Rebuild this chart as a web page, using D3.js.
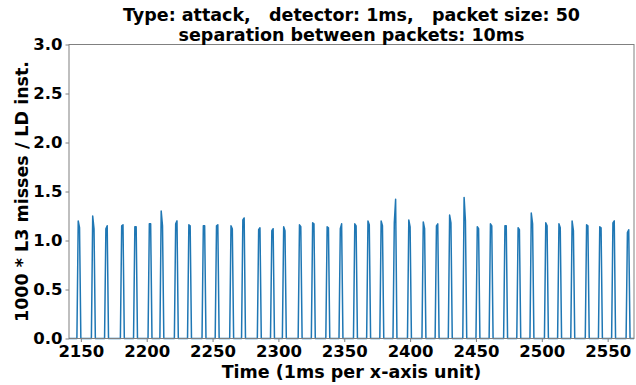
<!DOCTYPE html>
<html>
<head>
<meta charset="utf-8">
<script src="https://cdn.jsdelivr.net/npm/d3@7"></script>
<style>
  body { margin: 0; background: #fff; }
  text { font-family: "DejaVu Sans", sans-serif; font-weight: bold; }
</style>
</head>
<body>
<div id="chart"></div>
<script>
const WIDTH = 636;
const HEIGHT = 385;

// time window shown on the x axis (1ms per unit)
const timeRange = [2141, 2570];

// each spike: start time (ms), then first and second non-zero sample
const spikeStart = [2147, 2158, 2168, 2180, 2190, 2201, 2210, 2221, 2231, 2242,
                    2252, 2263, 2272, 2284, 2294, 2303, 2315, 2325, 2336, 2346,
                    2357, 2367, 2377, 2387, 2398, 2409, 2419, 2429, 2440, 2450,
                    2460, 2471, 2481, 2491, 2502, 2512, 2522, 2533, 2543, 2553, 2564];
const spikeFirst = [1.20, 1.25, 1.12, 1.15, 1.14, 1.17, 1.30, 1.17, 1.16, 1.15,
                    1.15, 1.15, 1.21, 1.11, 1.10, 1.14, 1.16, 1.18, 1.14, 1.12,
                    1.17, 1.20, 1.20, 1.18, 1.21, 1.19, 1.15, 1.26, 1.44, 1.14,
                    1.17, 1.15, 1.13, 1.28, 1.18, 1.17, 1.20, 1.16, 1.14, 1.18, 1.08];
const spikeSecond = [1.13, 1.12, 1.15, 1.16, 1.14, 1.17, 1.15, 1.20, 1.15, 1.15,
                     1.16, 1.12, 1.23, 1.13, 1.12, 1.10, 1.14, 1.17, 1.13, 1.17,
                     1.15, 1.16, 1.15, 1.42, 1.14, 1.12, 1.17, 1.18, 1.20, 1.12,
                     1.15, 1.15, 1.11, 1.17, 1.15, 1.13, 1.10, 1.15, 1.13, 1.20, 1.11];

const xTicks = [2150, 2200, 2250, 2300, 2350, 2400, 2450, 2500, 2550];
const yTicks = [0.0, 0.5, 1.0, 1.5, 2.0, 2.5, 3.0];

const titleLines = ["Type: attack,   detector: 1ms,   packet size: 50",
                    "separation between packets: 10ms"];
const xLabel = "Time (1ms per x-axis unit)";
const yLabel = "1000 * L3 misses / LD inst.";

// series sampled every 1ms: zero between spikes
function buildSeries() {
    const vals = new Map();
    spikeStart.forEach((t, i) => {
        vals.set(t + 1, spikeFirst[i]);
        vals.set(t + 2, spikeSecond[i]);
    });
    const pts = [];
    for (let t = timeRange[0]; t <= timeRange[1]; t++) {
        pts.push({ t, v: vals.has(t) ? vals.get(t) : 0 });
    }
    return pts;
}

const margin = { top: 44.5, right: 2, bottom: 46.5, left: 69 };
const innerW = WIDTH - margin.left - margin.right;
const innerH = HEIGHT - margin.top - margin.bottom;

const svg = d3.select('#chart').append('svg')
    .attr('width', WIDTH)
    .attr('height', HEIGHT);

const g = svg.append('g')
    .attr('transform', `translate(${margin.left},${margin.top})`);

const x = d3.scaleLinear().domain(timeRange).range([0, innerW]);
const y = d3.scaleLinear().domain([0, 3]).range([innerH, 0]);

const series = buildSeries();

g.append('path')
    .datum(series)
    .attr('fill', 'none')
    .attr('stroke', '#1f77b4')
    .attr('stroke-width', 1.5)
    .attr('stroke-linejoin', 'round')
    .attr('d', d3.line().x(d => x(d.t)).y(d => y(d.v)));

// frame
g.append('rect')
    .attr('width', innerW)
    .attr('height', innerH)
    .attr('fill', 'none')
    .attr('stroke', '#808080')
    .attr('stroke-width', 1);

const xAxis = g.append('g')
    .attr('transform', `translate(0,${innerH})`)
    .call(d3.axisBottom(x).tickValues(xTicks).tickFormat(d3.format('d')).tickSize(3.5).tickPadding(3));
const yAxis = g.append('g')
    .call(d3.axisLeft(y).tickValues(yTicks).tickFormat(d3.format('.1f')).tickSize(3.5).tickPadding(3));

[xAxis, yAxis].forEach(ax => {
    ax.select('.domain').remove();
    ax.selectAll('line').attr('stroke', '#808080');
    ax.selectAll('text')
        .attr('fill', '#000')
        .style('font-size', '16.5px')
        .style('font-family', '"DejaVu Sans", sans-serif')
        .style('font-weight', 'bold');
});

svg.selectAll('.title')
    .data(titleLines)
    .enter().append('text')
    .attr('class', 'title')
    .attr('x', margin.left + innerW / 2)
    .attr('y', (d, i) => 21 + i * 19.5)
    .attr('text-anchor', 'middle')
    .style('font-size', '17.5px')
    .style('white-space', 'pre')
    .text(d => d);

svg.append('text')
    .attr('x', margin.left + innerW / 2)
    .attr('y', 378)
    .attr('text-anchor', 'middle')
    .style('font-size', '17.5px')
    .text(xLabel);

svg.append('text')
    .attr('transform', `translate(28,${margin.top + innerH / 2}) rotate(-90)`)
    .attr('text-anchor', 'middle')
    .style('font-size', '17.5px')
    .text(yLabel);
</script>
</body>
</html>
